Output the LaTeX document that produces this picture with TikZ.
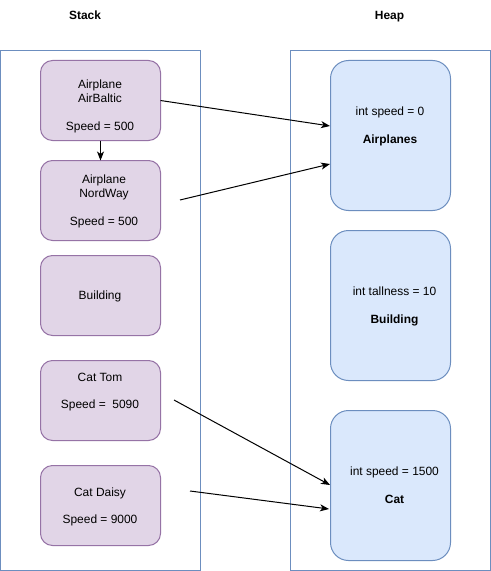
\documentclass[tikz,border=0pt]{standalone}
\usepackage{fontspec}
\setmainfont{Liberation Sans}
\usetikzlibrary{arrows.meta}
\definecolor{pfill}{HTML}{E1D5E7}
\definecolor{pline}{HTML}{9673A6}
\definecolor{bfill}{HTML}{DAE8FC}
\definecolor{bline}{HTML}{6C8EBF}
\begin{document}
\begin{tikzpicture}[x=1bp,y=-1bp, line width=1bp,
 font=\fontsize{12}{14}\selectfont,
 container/.style={draw=bline, fill=white, minimum width=200bp, minimum height=520bp, inner sep=0, outer sep=0, anchor=north west},
 sbox/.style={draw=pline, fill=pfill, rounded corners=12bp, minimum width=120bp, minimum height=80bp, inner sep=0, outer sep=0, anchor=north west},
 hbox/.style={draw=bline, fill=bfill, rounded corners=18bp, minimum width=120bp, minimum height=150bp, inner sep=0, outer sep=0, anchor=north west},
 txt/.style={inner sep=0, outer sep=0, anchor=base},
 btxt/.style={txt, font=\fontsize{12}{14}\selectfont\bfseries},
 conn/.style={-{Stealth[length=9bp,width=7bp,inset=2.5bp]}, line width=1bp, black}]
\useasboundingbox (0,0) rectangle (491,571);
% titles
\node[btxt] (tstack) at (85,20) {Stack};
\node[btxt] (theap) at (389.5,20) {Heap};
% containers
\node[container] (stack) at (0.5,50.5) {};
\node[container] (heap) at (290.5,50.5) {};
% stack boxes
\node[sbox] (s1) at (40.5,60.5) {};
\node[sbox] (s2) at (40.5,160.5) {};
\node[sbox] (s3) at (40.5,255.5) {};
\node[sbox] (s4) at (40.5,360.5) {};
\node[sbox] (s5) at (40.5,465.5) {};
% heap boxes
\node[hbox] (h1) at (330.5,60.5) {};
\node[hbox] (h2) at (330.5,230.5) {};
\node[hbox] (h3) at (330.5,410.5) {};
% stack texts
\node[txt] (s1a) at (100,88.5) {Airplane};
\node[txt] (s1b) at (100,102.5) {AirBaltic};
\node[txt] (s1c) at (100,130.5) {Speed = 500};
\node[txt] (s2a) at (104,183.5) {Airplane};
\node[txt] (s2b) at (104,197.5) {NordWay};
\node[txt] (s2c) at (104,225.5) {Speed = 500};
\node[txt] (s3a) at (100,299.5) {Building};
\node[txt] (s4a) at (100,381) {Cat Tom};
\node[txt] (s4b) at (100,408.5) {Speed =\ \ 5090};
\node[txt] (s5a) at (100,496) {Cat Daisy};
\node[txt] (s5b) at (100,523.5) {Speed = 9000};
% heap texts
\node[txt] (h1a) at (390,115.5) {int speed = 0};
\node[btxt] (h1b) at (390,143.5) {Airplanes};
\node[txt] (h2a) at (394.5,295.5) {int tallness = 10};
\node[btxt] (h2b) at (394.5,323.5) {Building};
\node[txt] (h3a) at (394.5,475.5) {int speed = 1500};
\node[btxt] (h3b) at (394.5,503.5) {Cat};
% connector end points
\coordinate (e1) at (330,126);
\coordinate (p2) at (180,200);
\coordinate (e2) at (330,164);
\coordinate (p4) at (174,400);
\coordinate (e4) at (330,485);
\coordinate (p5) at (190,491);
\coordinate (e5) at (329,509);
% connectors
\draw[conn] (s1.east) -- (e1);
\draw[conn] (s1.south) -- (s2.north);
\draw[conn] (p2) -- (e2);
\draw[conn] (p4) -- (e4);
\draw[conn] (p5) -- (e5);
\end{tikzpicture}
\end{document}
